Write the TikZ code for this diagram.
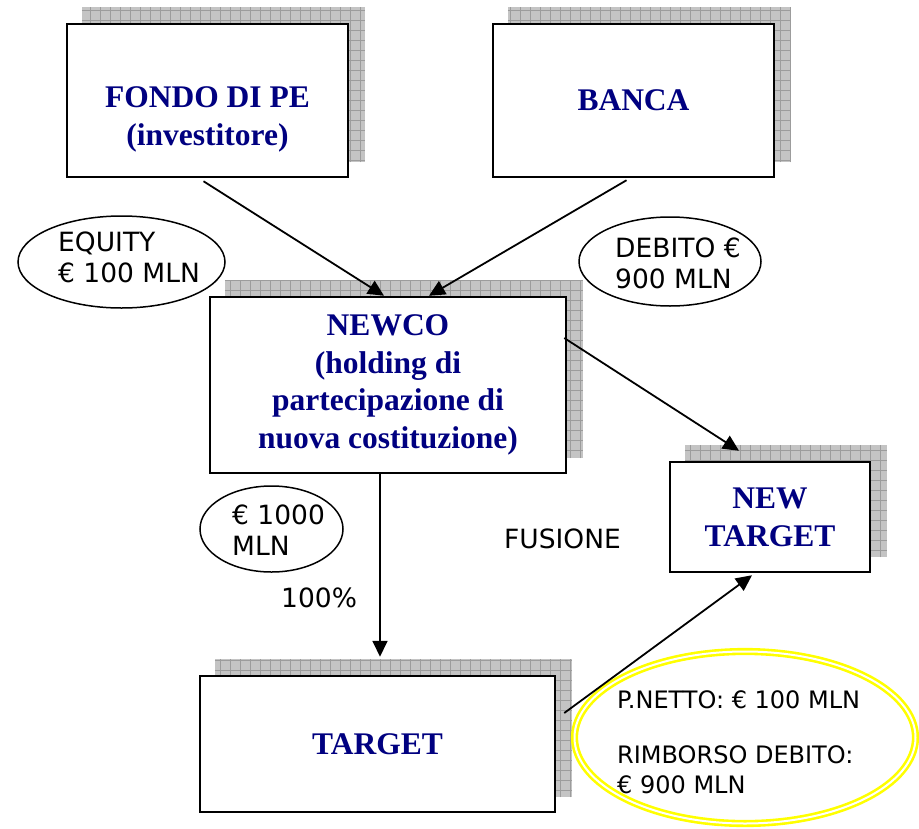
\documentclass[tikz,border=0pt]{standalone}
\usepackage{fontspec}
\setmainfont{Liberation Serif}
\newfontfamily\lbSans{DejaVu Sans}
\definecolor{lbNavy}{HTML}{000080}
\definecolor{lbShadow}{HTML}{C4C4C4}
\definecolor{lbGrid}{HTML}{9C9C9C}
\definecolor{lbYellow}{HTML}{FFFF00}
\usetikzlibrary{arrows.meta,shapes.geometric,backgrounds}

\tikzset{
  lbBox/.style={draw, line width=2.5pt, fill=white, text=lbNavy, align=center,
    inner sep=0pt, font=\bfseries\fontsize{31.5}{37.7}\selectfont},
  lbOval/.style={draw, ellipse, line width=1.5pt, inner sep=0pt},
  lbLabel/.style={anchor=base west, align=left, inner sep=0pt,
    font=\lbSans\fontsize{26.5}{30.5}\selectfont},
  lbArrow/.style={line width=1.8pt, -{Triangle[width=15pt,length=16pt]}}
}

\begin{document}
\begin{tikzpicture}[x=1pt, y=-1pt]
  \useasboundingbox (0,0) rectangle (919,828);

  % -- Boxes --
  \node[lbBox, minimum width=281pt, minimum height=153pt] (fondo) at (207.5,100.5)
    {{\rule{0pt}{58pt}}FONDO DI PE\\(investitore)};
  \node[lbBox, minimum width=281pt, minimum height=153pt] (banca) at (633.5,100.5) {BANCA};
  \node[lbBox, minimum width=356pt, minimum height=176pt] (newco) at (388,385)
    {NEWCO\\(holding di\\partecipazione di\\nuova costituzione)};
  \node[lbBox, minimum width=200pt, minimum height=110pt] (newtgt) at (770,517) {NEW\\TARGET};
  \node[lbBox, minimum width=355pt, minimum height=136pt] (target) at (377.5,744) {TARGET};

  % Shadows
  \begin{scope}[on background layer]
    \foreach \nm in {fondo,banca,newco,newtgt,target}{
      \fill[lbShadow] ([xshift=16pt,yshift=16pt]\nm.south west) rectangle ([xshift=16pt,yshift=16pt]\nm.north east);
      \draw[lbGrid, line width=0.6pt, step=10pt] ([xshift=16pt,yshift=16pt]\nm.south west) grid ([xshift=16pt,yshift=16pt]\nm.north east);
    }
  \end{scope}

  % -- Ovals --
  \node[lbOval, minimum width=207pt, minimum height=92pt] (eqEll) at (121.5,262) {};
  \node[lbOval, minimum width=182pt, minimum height=89pt] (debEll) at (670,261.5) {};
  \node[lbOval, minimum width=143pt, minimum height=86pt] (milleEll) at (271.5,529) {};
  \node[ellipse, draw=lbYellow, line width=2.6pt, double=white, double distance=2pt,
    inner sep=0pt, minimum width=341pt, minimum height=172pt] (yelEll) at (745,737.5) {};

  % -- Labels --
  \node[lbLabel] (eqTxt) at (58,282) {EQUITY\\€ 100 MLN};
  \node[lbLabel] (debTxt) at (615,288) {DEBITO €\\900 MLN};
  \node[lbLabel] (milleTxt) at (232,555) {€ 1000\\MLN};
  \node[lbLabel] (pctTxt) at (281,607) {100\%};
  \node[lbLabel] (fusTxt) at (504,548) {FUSIONE};
  \node[lbLabel, font=\lbSans\fontsize{24}{30}\selectfont] (yelTxt) at (617,793)
    {P.NETTO: € 100 MLN\\[25pt]RIMBORSO DEBITO:\\€ 900 MLN};

  % -- Arrows --
  \draw[lbArrow] ([xshift=-4pt,yshift=-3pt]fondo.south) -- ([xshift=-4pt]newco.north);
  \draw[lbArrow] ([xshift=-7pt,yshift=-2pt]banca.south) -- ([xshift=41pt]newco.north);
  \draw[lbArrow] ([xshift=-3pt,yshift=47pt]newco.east) -- ([xshift=-31pt,yshift=10pt]newtgt.north);
  \draw[lbArrow] ([xshift=-8pt]newco.south) -- ([xshift=2.5pt,yshift=18pt]target.north);
  \draw[lbArrow] ([xshift=8pt,yshift=31pt]target.east) -- ([xshift=-18pt,yshift=-2pt]newtgt.south);
\end{tikzpicture}
\end{document}
